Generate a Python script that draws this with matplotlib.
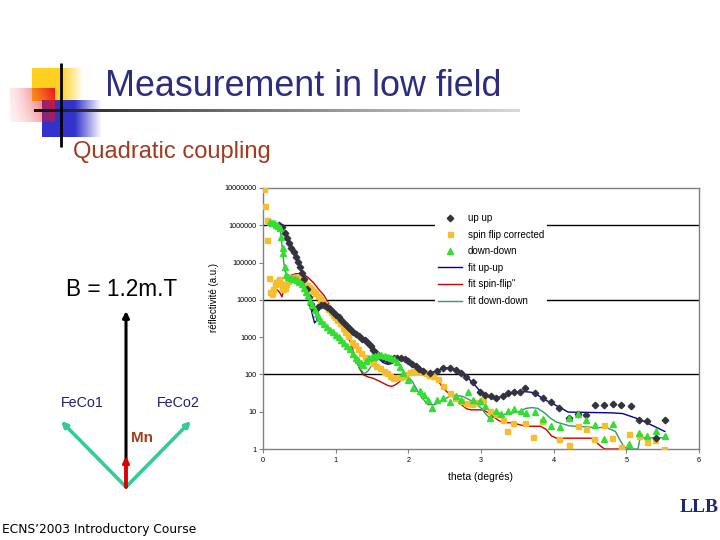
import numpy as np
import matplotlib
matplotlib.use("Agg")
import matplotlib.pyplot as plt

# ---------------- data (log10 of reflectivity) ----------------
upup_x = [0.22,0.26,0.30,0.33,0.36,0.39,0.42,0.45,0.48,0.51,0.54,0.57,0.60,0.63,0.66,0.69,0.72,0.76,0.80,0.84,
          0.88,0.92,0.96,1.00,1.04,1.08,1.12,1.16,1.20,1.24,1.28,1.32,1.36,1.40,1.44,1.48,1.52,1.56,1.60,1.65,
          1.70,1.75,1.80,1.85,1.90,1.95,2.00,2.05,2.10,2.15,2.20,2.30,2.40,2.48,2.57,2.65,2.73,2.80,2.89,2.98,
          3.05,3.14,3.21,3.30,3.37,3.46,3.53,3.60,3.74,3.85,3.97,4.08,4.21,4.33,4.45,4.57,4.69,4.81,4.93,5.06,
          5.17,5.29,5.41,5.53]
upup_log = [6.02,5.95,5.80,5.65,5.52,5.40,5.28,5.15,5.02,4.88,4.72,4.55,4.30,4.08,3.90,3.78,3.74,3.80,3.86,3.85,
            3.82,3.76,3.68,3.60,3.53,3.46,3.38,3.30,3.22,3.15,3.08,3.02,2.96,2.92,2.85,2.75,2.65,2.57,2.50,2.45,
            2.40,2.40,2.43,2.45,2.45,2.42,2.35,2.28,2.22,2.15,2.08,2.04,2.08,2.18,2.18,2.13,2.03,1.94,1.80,1.52,
            1.46,1.41,1.37,1.42,1.50,1.54,1.54,1.63,1.50,1.38,1.26,1.11,0.83,0.94,0.92,1.19,1.19,1.20,1.17,1.15,
            0.78,0.76,0.29,0.78]

sf_x = [0.01,0.03,0.05,0.06,0.08,0.10,0.12,0.14,0.16,0.18,0.20,0.22,0.24,0.26,0.28,0.30,0.32,0.34,0.36,0.39,
        0.42,0.45,0.48,0.51,0.54,0.57,0.60,0.63,0.66,0.69,0.72,0.75,0.78,0.81,0.84,0.87,0.90,0.93,0.96,0.99,
        1.02,1.06,1.10,1.13,1.17,1.22,1.26,1.31,1.35,1.40,1.45,1.51,1.56,1.61,1.66,1.70,1.75,1.79,1.84,1.88,
        1.93,1.97,2.02,2.06,2.11,2.15,2.20,2.25,2.29,2.34,2.41,2.48,2.57,2.64,2.72,2.80,2.87,2.95,3.03,3.12,
        3.21,3.30,3.36,3.44,3.60,3.72,3.84,4.08,4.21,4.33,4.45,4.55,4.69,4.80,4.93,5.04,5.17,5.29,5.40,5.52]
sf_log = [6.98,6.52,6.15,5.60,4.58,4.20,4.15,4.30,4.42,4.48,4.50,4.55,4.45,4.35,4.28,4.32,4.42,4.50,4.56,4.62,
          4.62,4.60,4.58,4.55,4.50,4.45,4.40,4.35,4.30,4.25,4.18,4.10,4.03,3.97,3.90,3.84,3.75,3.67,3.60,3.55,
          3.45,3.37,3.25,3.15,3.02,2.88,2.78,2.68,2.58,2.48,2.38,2.30,2.22,2.17,2.08,2.03,1.96,1.90,1.92,1.94,
          1.97,2.01,2.06,2.08,2.09,2.08,2.07,2.03,1.99,1.97,1.88,1.70,1.51,1.36,1.28,1.24,1.22,1.25,1.35,1.01,
          0.95,0.78,0.47,0.71,0.71,0.32,0.76,0.27,0.12,0.62,0.53,0.28,0.64,0.30,0.06,0.40,0.34,0.18,0.25,0.01]

dd_x = [0.09,0.12,0.15,0.18,0.21,0.23,0.25,0.27,0.28,0.30,0.32,0.35,0.38,0.41,0.44,0.47,0.50,0.53,0.56,0.59,
        0.62,0.65,0.68,0.71,0.74,0.77,0.80,0.84,0.88,0.92,0.96,1.00,1.04,1.08,1.12,1.16,1.20,1.24,1.28,1.31,
        1.35,1.38,1.42,1.46,1.50,1.54,1.58,1.63,1.68,1.72,1.76,1.80,1.84,1.88,1.93,2.00,2.06,2.16,2.22,2.27,
        2.32,2.39,2.48,2.57,2.66,2.73,2.82,2.89,2.98,3.05,3.12,3.21,3.28,3.37,3.46,3.55,3.62,3.74,3.85,3.97,
        4.09,4.21,4.33,4.45,4.57,4.69,4.81,5.04,5.17,5.29,5.41,5.53]
dd_log = [6.09,6.07,6.05,6.02,5.98,5.93,5.69,5.40,5.25,4.89,4.66,4.60,4.58,4.57,4.56,4.53,4.49,4.42,4.33,4.22,
          4.10,3.97,3.86,3.74,3.62,3.52,3.44,3.35,3.27,3.20,3.13,3.06,3.00,2.92,2.85,2.77,2.68,2.55,2.45,2.38,
          2.30,2.26,2.36,2.44,2.47,2.49,2.51,2.52,2.50,2.48,2.45,2.42,2.33,2.20,2.03,1.86,1.64,1.55,1.45,1.32,
          1.10,1.32,1.36,1.26,1.42,1.32,1.54,1.32,1.28,1.14,0.83,1.01,0.94,1.01,1.07,1.01,0.97,0.99,0.80,0.63,
          0.58,0.83,0.95,0.78,0.64,0.27,0.66,0.14,0.43,0.36,0.49,0.36]

fit_uu_x = [0.22,0.30,0.40,0.50,0.58,0.64,0.68,0.71,0.74,0.77,0.82,0.90,1.00,1.10,1.20,1.30,1.40,1.50,1.58,1.65,
            1.72,1.78,1.85,1.92,2.00,2.10,2.20,2.30,2.40,2.50,2.60,2.70,2.80,2.90,3.00,3.10,3.20,3.30,3.40,3.50,
            3.60,3.70,3.80,3.90,4.00,4.10,4.20,4.50,4.80,4.95,5.10,5.20,5.35,5.53]
fit_uu_log = [6.00,5.78,5.40,4.90,4.45,3.98,3.60,3.38,3.45,3.80,3.86,3.80,3.60,3.42,3.22,3.05,2.92,2.68,2.45,2.32,
              2.27,2.30,2.42,2.45,2.36,2.22,2.08,2.04,2.10,2.18,2.17,2.08,1.94,1.75,1.52,1.40,1.36,1.42,1.50,1.53,
              1.54,1.52,1.42,1.30,1.20,1.10,0.99,0.98,0.97,0.95,0.85,0.78,0.64,0.47]

fit_sf_x = [0.20,0.23,0.26,0.29,0.33,0.385,0.45,0.52,0.61,0.70,0.78,0.84,0.92,1.00,1.10,1.20,1.28,1.33,1.38,1.45,
            1.51,1.58,1.65,1.72,1.77,1.82,1.87,1.95,2.04,2.15,2.25,2.34,2.42,2.48,2.55,2.61,2.67,2.73,2.80,2.86,
            3.03,3.10,3.16,3.24,3.30,3.44,3.55,3.65,3.82,3.90,3.97,4.04,4.54,4.62,4.70,4.93]
fit_sf_log = [4.26,4.20,4.08,4.30,4.50,4.66,4.70,4.71,4.62,4.45,4.25,4.12,3.85,3.57,3.25,2.88,2.40,2.15,1.99,1.93,
              1.90,1.84,1.77,1.70,1.68,1.72,1.79,1.94,2.07,2.08,2.04,1.99,1.80,1.63,1.50,1.41,1.30,1.19,1.08,1.05,
              1.05,0.97,0.88,0.77,0.71,0.70,0.64,0.61,0.61,0.52,0.35,0.29,0.29,0.12,0.00,0.00]

fit_dd_x = [0.09,0.15,0.20,0.24,0.26,0.28,0.30,0.33,0.38,0.45,0.50,0.55,0.60,0.65,0.70,0.75,0.80,0.88,0.96,1.03,
            1.10,1.17,1.23,1.28,1.33,1.39,1.44,1.50,1.54,1.60,1.65,1.72,1.79,1.84,1.88,1.93,1.97,2.06,2.11,2.16,
            2.22,2.27,2.36,2.48,2.61,2.75,2.89,3.00,3.06,3.12,3.21,3.35,3.51,3.62,3.70,3.78,3.88,3.96,4.04,4.22,
            4.40,4.59,4.72,4.85,4.91,4.97,5.04,5.16,5.19,5.36,5.53]
fit_dd_log = [6.09,6.05,6.00,5.85,5.50,5.10,4.78,4.66,4.60,4.56,4.48,4.35,4.17,3.97,3.78,3.58,3.44,3.26,3.13,3.01,
              2.88,2.72,2.55,2.36,2.17,2.02,2.08,2.25,2.34,2.44,2.48,2.50,2.47,2.38,2.26,2.10,1.99,1.80,1.62,1.45,
              1.30,1.19,1.19,1.32,1.45,1.41,1.27,1.10,0.95,0.83,0.88,0.94,0.99,1.09,1.11,1.09,0.96,0.82,0.72,0.62,
              0.60,0.57,0.58,0.47,0.25,0.05,0.00,0.00,0.30,0.30,0.30]

ytick_vals = [1, 10, 100, 1000, 10000, 100000, 1000000, 10000000]
ytick_labels = ["1", "10", "100", "1000", "10000", "100000", "1000000", "10000000"]
xtick_vals = [0, 1, 2, 3, 4, 5, 6]
grid_vals = [100, 10000, 1000000]

def lin(v):
    return np.power(10.0, np.asarray(v))

# ---------------- figure ----------------
W, H = 720, 540
fig = plt.figure(figsize=(7.2, 5.4), dpi=100)
fig.patch.set_facecolor("white")

deco = fig.add_axes([0, 0, 1, 1], zorder=0)
deco.set_axis_off()

def grad_rect(x0, x1, y0, y1, rgb, alpha_fn, n=60):
    xs = np.linspace(0, 1, n)
    ys = np.linspace(0, 1, n)
    X, Y = np.meshgrid(xs, ys)
    A = alpha_fn(X, Y)
    img = np.zeros((n, n, 4))
    img[..., 0] = rgb[0]; img[..., 1] = rgb[1]; img[..., 2] = rgb[2]
    img[..., 3] = np.clip(A, 0, 1)
    deco.imshow(img, extent=(x0, x1, y1, y0), origin="upper", aspect="auto",
                interpolation="bilinear", zorder=1)

# yellow square
grad_rect(32, 84, 68, 101, (1.0, 0.82, 0.12),
          lambda X, Y: np.where(X < 0.55, 1.0, 1.0 - (X - 0.55) / 0.45))
# blue square
grad_rect(42, 102, 100, 137, (0.2, 0.2, 0.8),
          lambda X, Y: np.where(X < 0.55, 1.0, 1.0 - (X - 0.55) / 0.45))
# red square
grad_rect(10, 55, 88, 122, (0.93, 0.08, 0.1),
          lambda X, Y: (0.10 + 0.90 * X ** 1.5) * (1.0 - 0.45 * Y))

# horizontal gradient line
n = 200
t = np.linspace(0, 1, n)
g = 0.05 + 0.8 * t ** 0.8
line_img = np.stack([g, g, g, np.ones(n)], axis=-1)[None, :, :]
deco.imshow(line_img, extent=(34, 520, 112.5, 109.5), origin="upper", aspect="auto", zorder=2)
deco.plot([61, 61], [63, 147], color="black", lw=2.0, zorder=3, solid_capstyle="butt")

# texts
deco.text(105, 87, "Measurement in low field", color="#2D2D7F", fontsize=25.8,
          family="Liberation Sans", va="center", ha="left", zorder=4)
deco.text(73, 152, "Quadratic coupling", color="#A33A1E", fontsize=17,
          family="Liberation Sans", va="center", ha="left", zorder=4)
deco.text(66, 290, "B = 1.2m.T", color="black", fontsize=16.3,
          family="Liberation Sans", va="center", ha="left", zorder=4)
deco.text(61, 403, "FeCo1", color="#1F1F6E", fontsize=10.3,
          family="Liberation Sans", va="center", ha="left", zorder=4)
deco.text(157, 403, "FeCo2", color="#1F1F6E", fontsize=10.3,
          family="Liberation Sans", va="center", ha="left", zorder=4)
deco.text(131, 438, "Mn", color="#A0401A", fontsize=11, fontweight="bold",
          family="Liberation Sans", va="center", ha="left", zorder=4)
deco.text(2, 530, "ECNS\u20192003 Introductory Course", color="black", fontsize=8.85,
          family="DejaVu Sans", va="center", ha="left", zorder=4)
deco.text(699, 508, "LLB", color="#1F2A6E", fontsize=14, fontweight="bold",
          family="Liberation Serif", va="center", ha="center", zorder=4)

# arrows
teal = "#33CC99"
for (xe, ye) in [(61, 421), (191, 421)]:
    deco.annotate("", xy=(xe, ye), xytext=(126, 487),
                  arrowprops=dict(arrowstyle="-|>", lw=2.6, color=teal,
                                  mutation_scale=8, shrinkA=0, shrinkB=0), zorder=4)
deco.annotate("", xy=(126, 311), xytext=(126, 487),
              arrowprops=dict(arrowstyle="-|>", lw=2.2, color="black",
                              mutation_scale=9, shrinkA=0, shrinkB=0), zorder=5)
deco.annotate("", xy=(126, 456), xytext=(126, 487),
              arrowprops=dict(arrowstyle="-|>", lw=2.6, color="#E00000",
                              mutation_scale=8, shrinkA=0, shrinkB=0), zorder=6)

deco.text(214, 298, "réflectivité (a.u.)", rotation=90, fontsize=7.0,
          family="Liberation Sans", va="center", ha="center", zorder=4)
deco.text(481, 477, "theta (degrés)", fontsize=7.5,
          family="Liberation Sans", va="center", ha="center", zorder=4)

deco.set_xlim(0, W)
deco.set_ylim(H, 0)

# ---------------- chart ----------------
L, R, T, B = 263, 699, 188, 449
ax = fig.add_axes([L / W, 1 - B / H, (R - L) / W, (B - T) / H], zorder=2)
ax.set_facecolor("none")
ax.set_yscale("log")
ax.set_xlim(0, 6)
ax.set_ylim(1, 1e7)

for gv in grid_vals:
    ax.axhline(gv, color="black", lw=1.0, zorder=1)

ax.plot(fit_uu_x, lin(fit_uu_log), color="#000099", lw=1.0, zorder=2, label="fit up-up")
ax.plot(fit_sf_x, lin(fit_sf_log), color="#CC0000", lw=1.0, zorder=2, label="fit spin-flip\"")
ax.plot(fit_dd_x, lin(fit_dd_log), color="#339966", lw=1.0, zorder=2, label="fit down-down")

ax.plot(upup_x, lin(upup_log), ls="none", marker="D", ms=3.3, color="#33333F",
        mec="#33333F", zorder=4, label="up up")
ax.plot(sf_x, lin(sf_log), ls="none", marker="s", ms=3.6, color="#F5BE2E",
        mec="#F5BE2E", zorder=3, label="spin flip corrected")
ax.plot(dd_x, lin(dd_log), ls="none", marker="^", ms=4.0, color="#33DD33",
        mec="#33DD33", zorder=5, label="down-down")

ax.set_yticks(ytick_vals, ytick_labels)
ax.yaxis.set_minor_locator(matplotlib.ticker.NullLocator())
ax.set_xticks(xtick_vals, [str(v) for v in xtick_vals])
for s in ax.spines.values():
    s.set_color("#808080")
    s.set_linewidth(1.0)
ax.tick_params(axis="both", direction="out", length=3, width=0.8, color="#808080",
               labelsize=5.2, pad=2)
ax.tick_params(axis="x", pad=3)
for lab in ax.get_xticklabels() + ax.get_yticklabels():
    lab.set_family("Liberation Sans")

handles, labels = ax.get_legend_handles_labels()
order = [3, 4, 5, 0, 1, 2]
leg = ax.legend([handles[i] for i in order], [labels[i] for i in order],
                loc="upper left", bbox_to_anchor=(435 / W, 1 - 210 / H),
                bbox_transform=fig.transFigure, frameon=True, fancybox=False,
                edgecolor="none", facecolor="white", framealpha=1.0,
                handlelength=2.5, handletextpad=0.55,
                labelspacing=0.68, borderpad=0.3, borderaxespad=0,
                prop={"family": "Liberation Sans", "size": 7.0})
leg.set_zorder(10)

fig.savefig("out.png", dpi=100, facecolor="white")
